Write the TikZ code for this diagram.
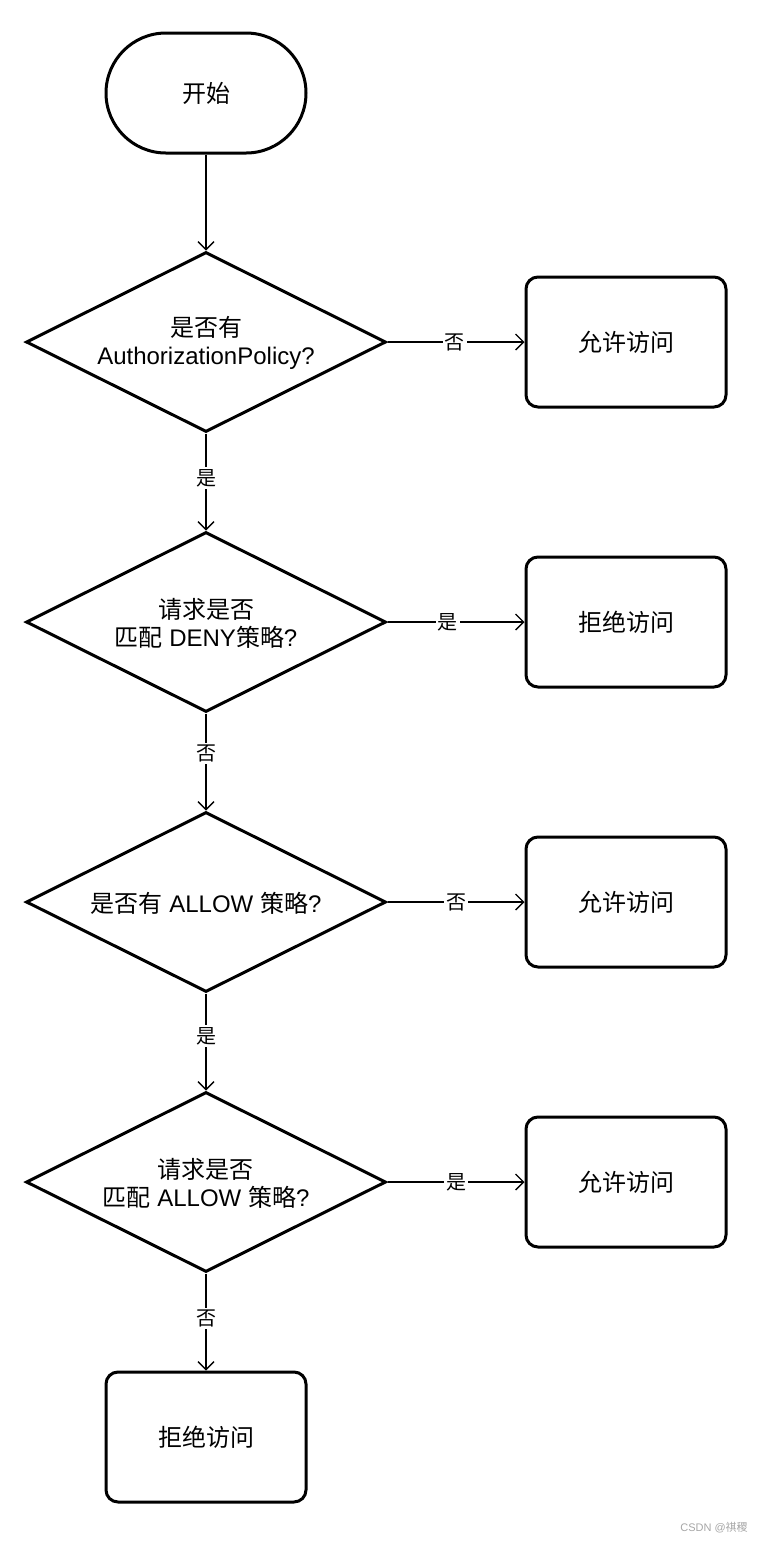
\documentclass[tikz,border=0pt]{standalone}
\usepackage{fontspec}
\setmainfont{Liberation Sans}
\newfontfamily\cjk{Noto Sans CJK SC}
\usetikzlibrary{arrows.meta,shapes.geometric}
\begin{document}
\begin{tikzpicture}[x=0.5pt,y=-0.5pt,
  every node/.style={font=\fontsize{12}{14}\selectfont, align=center},
  shp/.style={draw=black, line width=1.5pt, fill=white},
  dec/.style={shp, diamond, minimum width=180pt, minimum height=90pt, inner sep=0pt},
  outbox/.style={shp, rounded corners=6pt, minimum width=100pt, minimum height=65pt, inner sep=0pt},
  conn/.style={line width=0.65pt, -{Straight Barb[length=4pt,width=8pt,line width=0.65pt]}},
  lbl/.style={fill=white, inner sep=1pt, font=\fontsize{10}{12}\selectfont\cjk}
]
\useasboundingbox (0,0) rectangle (764,1544);
\node[shp, rounded corners=30pt, minimum width=100pt, minimum height=60pt, inner sep=0pt] (start) at (206,93) {\cjk 开始};
\node[dec] (d1) at (206,342) {};
\node (t1) at (206,343) {{\cjk 是否有}\\AuthorizationPolicy?};
\node[dec] (d2) at (206,622) {};
\node (t2) at (206,623) {{\cjk 请求是否}\\{\cjk 匹配} DENY{\cjk 策略}?};
\node[dec] (d3) at (206,902) {};
\node (t3) at (206,903) {{\cjk 是否有} ALLOW {\cjk 策略}?};
\node[dec] (d4) at (206,1182) {};
\node (t4) at (206,1183) {{\cjk 请求是否}\\{\cjk 匹配} ALLOW {\cjk 策略}?};
\node[outbox] (b1) at (626,342) {\cjk 允许访问};
\node[outbox] (b2) at (626,622) {\cjk 拒绝访问};
\node[outbox] (b3) at (626,902) {\cjk 允许访问};
\node[outbox] (b4) at (626,1182) {\cjk 允许访问};
\node[outbox] (b5) at (206,1437) {\cjk 拒绝访问};
\draw[conn] (start.south) -- (d1.north);
\draw[conn] (d1.east) -- node[lbl, pos=0.49] {否} (b1.west);
\draw[conn] (d1.south) -- node[lbl, pos=0.46] {是} (d2.north);
\draw[conn] (d2.east) -- node[lbl, pos=0.44] {是} (b2.west);
\draw[conn] (d2.south) -- node[lbl, pos=0.41] {否} (d3.north);
\draw[conn] (d3.east) -- node[lbl, pos=0.5] {否} (b3.west);
\draw[conn] (d3.south) -- node[lbl, pos=0.44] {是} (d4.north);
\draw[conn] (d4.east) -- node[lbl, pos=0.5] {是} (b4.west);
\draw[conn] (d4.south) -- node[lbl, pos=0.46] {否} (b5.north);
\node[text=gray!70, font=\fontsize{5.5}{6}\selectfont] (wm) at (714,1528) {CSDN @{\cjk 祺稷}};
\end{tikzpicture}
\end{document}
